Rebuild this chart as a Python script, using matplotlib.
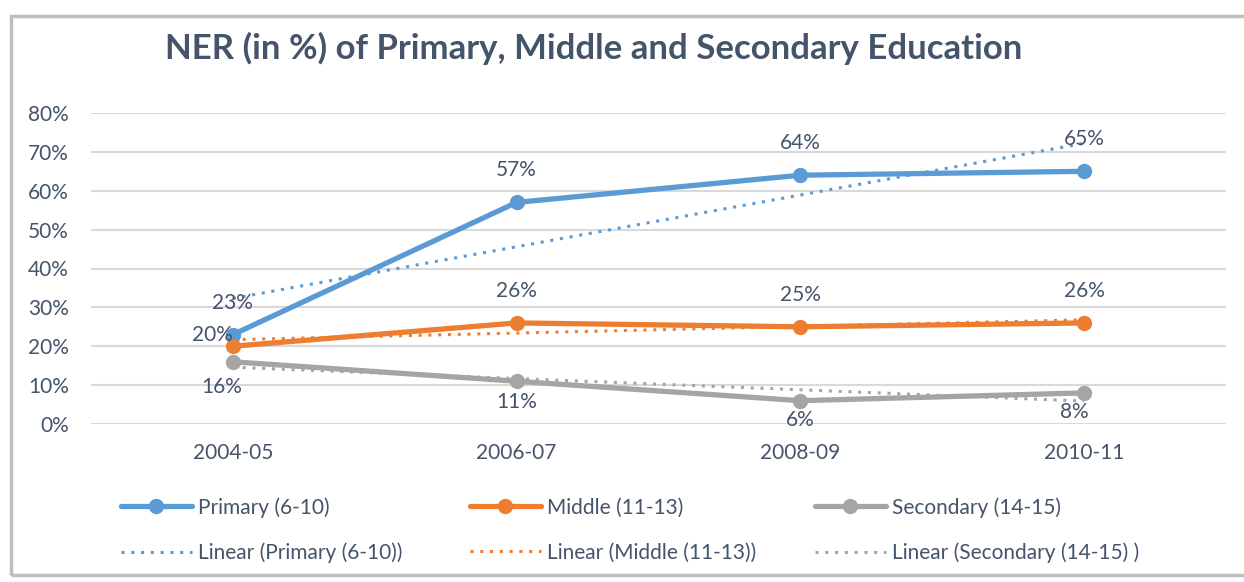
import numpy as np
import matplotlib
matplotlib.use("Agg")
import matplotlib.pyplot as plt
from matplotlib.patches import Rectangle

plt.rcParams['font.family'] = ['Lato', 'DejaVu Sans']

years = ['2004-05', '2006-07', '2008-09', '2010-11']
primary = [23, 57, 64, 65]
middle = [20, 26, 25, 26]
secondary = [16, 11, 6, 8]

text_col = '#44546A'
series = [
    ('Primary (6-10)', 'Linear (Primary (6-10))', primary, '#5B9BD5'),
    ('Middle (11-13)', 'Linear (Middle (11-13))', middle, '#ED7D31'),
    ('Secondary (14-15)', 'Linear (Secondary (14-15) )', secondary, '#A5A5A5'),
]

# label offsets in points (dx, dy) per series/point
offsets = [
    [(0, 23), (0, 23), (0, 23), (0, 23)],
    [(-15, 8), (0, 23), (0, 23), (0, 23)],
    [(-8, -18), (0, -15), (0, -14), (-7, -14)],
]

fig = plt.figure(figsize=(12.44, 5.82), dpi=100)
fig.patches.append(Rectangle((0.009, 0.012), 0.995, 0.96, transform=fig.transFigure,
                             fill=False, edgecolor='#BFBFBF', linewidth=2.5))
ax = fig.add_axes([91 / 1244, 1 - 424 / 582, 1135 / 1244, 311 / 582])

x = np.arange(len(years))
lines, trends = [], []
for (name, tname, vals, col), offs in zip(series, offsets):
    v = np.array(vals) / 100
    ln, = ax.plot(x, v, color=col, lw=3.8, marker='o', ms=10, label=name, zorder=3,
                  solid_capstyle='round')
    k, b = np.polyfit(x, v, 1)
    tr, = ax.plot(x, k * x + b, color=col, lw=2.2, ls=(0, (1, 2.2)), label=tname, zorder=2)
    lines.append(ln)
    trends.append(tr)
    for xi, vi, val, (dx, dy) in zip(x, v, vals, offs):
        ax.annotate(f'{val}%', (xi, vi), xytext=(dx, dy), textcoords='offset points',
                    ha='center', va='center', fontsize=15, color=text_col, zorder=4)

ax.set_xlim(-0.5, 3.5)
ax.set_ylim(0, 0.8)
ax.set_yticks(np.arange(0, 0.81, 0.1))
ax.set_yticklabels([f'{int(round(t * 100))}%' for t in np.arange(0, 0.81, 0.1)])
ax.set_xticks(x)
ax.set_xticklabels(years)
ax.tick_params(length=0, labelsize=15, colors=text_col)
ax.tick_params(axis='x', pad=14)
ax.tick_params(axis='y', pad=16)
ax.grid(axis='y', color='#D9D9D9', lw=1.5)
ax.set_axisbelow(True)
for s in ax.spines.values():
    s.set_visible(False)

fig.text(165 / 1244, 1 - 48 / 582, 'NER (in %) of Primary, Middle and Secondary Education',
         fontsize=25, fontweight='bold', color=text_col, va='center')

for ln, tr, x0 in zip(lines, trends, [121, 470, 815]):
    fig.legend([ln, tr], [ln.get_label(), tr.get_label()], loc='center left',
               bbox_to_anchor=(x0 / 1244, 1 - 530 / 582), frameon=False, fontsize=15,
               labelcolor=text_col, handlelength=3.4, handletextpad=0.3,
               labelspacing=1.2, borderpad=0, borderaxespad=0)

fig.savefig('out.png', dpi=100)
